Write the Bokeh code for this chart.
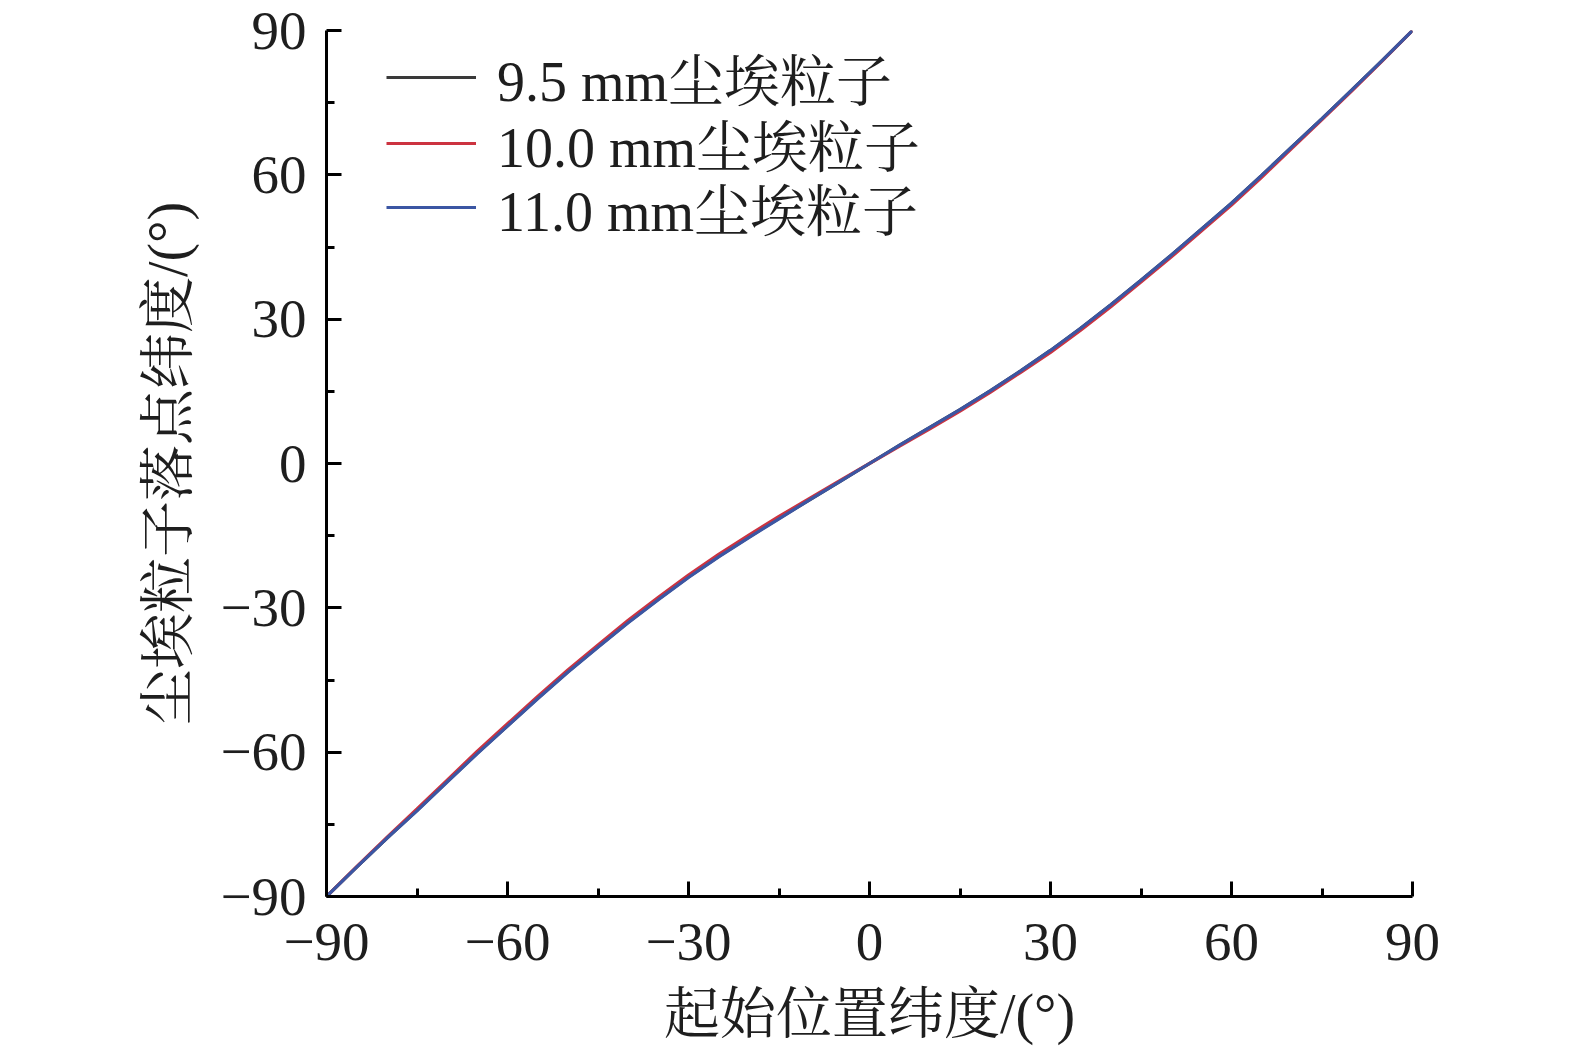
from bokeh.plotting import figure
from bokeh.models import Range1d, FixedTicker, Legend, LegendItem
from bokeh.embed import file_html
from bokeh.resources import INLINE

# ---- data ----
start_lat = [-90, -85, -80, -75, -70, -65, -60, -55, -50, -45, -40, -35, -30, -25, -20, -15, -10, -5,
             0, 5, 10, 15, 20, 25, 30, 35, 40, 45, 50, 55, 60, 65, 70, 75, 80, 85, 90]

land_95 = [-90.0, -83.9, -77.9, -72.1, -66.1, -60.2, -54.5, -48.8, -43.3, -38.1, -33.0, -28.2, -23.6,
           -19.3, -15.3, -11.4, -7.6, -3.8, 0.0, 3.8, 7.5, 11.2, 15.1, 19.2, 23.5, 28.1, 33.0, 38.1,
           43.3, 48.7, 54.1, 59.9, 65.8, 71.7, 77.7, 83.8, 90.0]
land_100 = [-90.0, -83.8, -77.7, -71.8, -65.8, -59.8, -54.1, -48.4, -42.9, -37.7, -32.6, -27.8, -23.2,
            -18.9, -14.9, -11.0, -7.3, -3.6, 0.0, 3.6, 7.2, 10.9, 14.8, 18.9, 23.1, 27.7, 32.6, 37.7,
            42.9, 48.3, 53.7, 59.5, 65.5, 71.5, 77.5, 83.7, 90.0]
land_110 = [-90.0, -83.9, -77.9, -72.2, -66.2, -60.3, -54.6, -48.9, -43.4, -38.2, -33.1, -28.3, -23.7,
            -19.4, -15.4, -11.5, -7.6, -3.8, 0.0, 3.8, 7.5, 11.2, 15.1, 19.2, 23.5, 28.1, 33.0, 38.1,
            43.3, 48.7, 54.1, 59.9, 65.8, 71.7, 77.7, 83.8, 90.0]

series_names = ["9.5 mm尘埃粒子", "10.0 mm尘埃粒子", "11.0 mm尘埃粒子"]
series_colors = ["#3a3a3a", "#cc3340", "#3b56a3"]

major_ticks = [-90, -60, -30, 0, 30, 60, 90]
minor_ticks = [-75, -45, -15, 15, 45, 75]
tick_labels = {t: (str(t).replace("-", "\u2212")) for t in major_ticks}

x_title = "起始位置纬度/(°)"
y_title = "尘埃粒子落点纬度/(°)"

# ---- figure ----
FONT = "'Liberation Serif', 'Noto Serif CJK SC', 'Noto Sans CJK SC', serif"
TXT = "#1e1e1e"
FW, FH = 1086, 866

p = figure(frame_width=FW, frame_height=FH,
           min_border_left=326, min_border_right=155, min_border_top=30, min_border_bottom=142,
           x_range=Range1d(-90, 90), y_range=Range1d(-90, 90),
           output_backend="svg", toolbar_location=None)
p.outline_line_color = None
p.xgrid.visible = False
p.ygrid.visible = False
p.background_fill_color = "white"
p.border_fill_color = "white"

renderers = []
for ys, c in zip([land_95, land_100, land_110], series_colors):
    r = p.line(start_lat, ys, line_color=c, line_width=3.2)
    renderers.append(r)

for ax in (p.xaxis[0], p.yaxis[0]):
    ax.ticker = FixedTicker(ticks=major_ticks, minor_ticks=minor_ticks)
    ax.major_label_overrides = tick_labels
    ax.axis_line_width = 3
    ax.axis_line_color = "black"
    ax.major_tick_line_width = 3
    ax.minor_tick_line_width = 3
    ax.major_tick_in = 15
    ax.major_tick_out = 0
    ax.minor_tick_in = 8
    ax.minor_tick_out = 0
    ax.major_label_text_font = FONT
    ax.major_label_text_font_size = "55px"
    ax.major_label_text_color = TXT
    ax.axis_label_text_font = FONT
    ax.axis_label_text_font_size = "56px"
    ax.axis_label_text_font_style = "normal"
    ax.axis_label_text_color = TXT

p.xaxis.axis_label = x_title
p.yaxis.axis_label = y_title
p.xaxis.major_label_standoff = 27
p.yaxis.major_label_standoff = 20
p.xaxis.axis_label_standoff = 20
p.yaxis.axis_label_standoff = 18

# one legend per row so that the row pitch matches the reference
ROW_H = 80
row_offsets = [47, 113, 177]   # row centres below the frame top, px
for n, r, off in zip(series_names, renderers, row_offsets):
    lg = Legend(items=[LegendItem(label=n, renderers=[r])],
                location=(60, FH - off - ROW_H // 2), margin=0, padding=0, spacing=0,
                glyph_width=90, glyph_height=ROW_H, label_height=ROW_H, label_standoff=21,
                label_text_font=FONT, label_text_font_size="56px", label_text_color=TXT,
                border_line_color=None, background_fill_alpha=0)
    p.add_layout(lg, "center")

open("out.html", "w").write(file_html(p, INLINE))
